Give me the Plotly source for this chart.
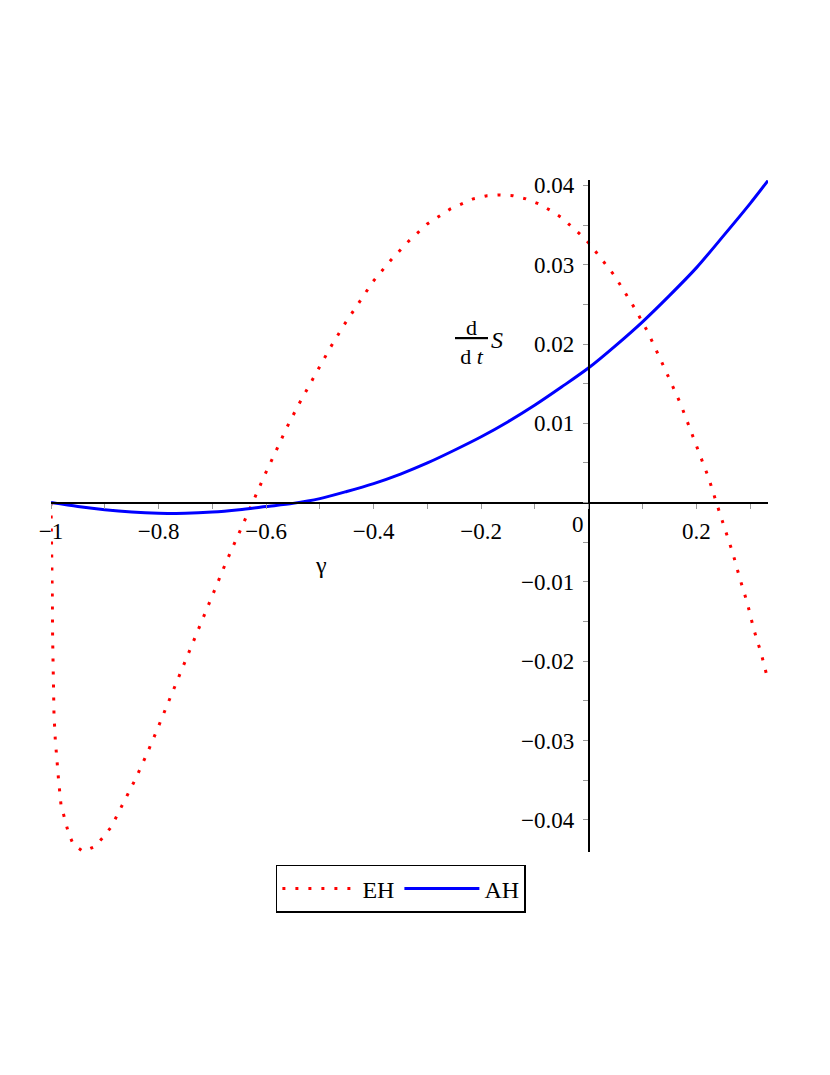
import plotly.graph_objects as go

# ---- data ----
eh_x = [-1.0, -0.9981, -0.9976, -0.997, -0.9957, -0.9944, -0.992, -0.9888, -0.9859,
        -0.9814, -0.9747, -0.9678, -0.9586, -0.94, -0.9195, -0.903, -0.888, -0.866,
        -0.844, -0.823, -0.813, -0.803, -0.785, -0.757, -0.729, -0.701, -0.674,
        -0.625, -0.604, -0.583, -0.562, -0.540, -0.505, -0.481, -0.455, -0.429,
        -0.401, -0.369, -0.336, -0.301, -0.258, -0.215, -0.189, -0.165, -0.141,
        -0.117, -0.094, -0.0725, -0.052, -0.0335, -0.0155, 0.0019, 0.0173, 0.033,
        0.047, 0.061, 0.0855, 0.110, 0.131, 0.1506, 0.171, 0.188, 0.2063, 0.223,
        0.2373, 0.2528, 0.268, 0.2807, 0.295, 0.307, 0.321, 0.3333]
eh_y = [0.0, -0.0068, -0.0119, -0.0169, -0.0220, -0.0268, -0.0299, -0.0329, -0.0350,
        -0.0381, -0.0400, -0.0416, -0.0431, -0.0440, -0.0434, -0.0422, -0.0409, -0.0379,
        -0.0350, -0.0319, -0.0304, -0.0287, -0.0257, -0.0211, -0.0165, -0.0121, -0.00745,
        0.0, 0.00327, 0.0063, 0.0094, 0.0123, 0.01664, 0.0195, 0.0224, 0.0251,
        0.0279, 0.0305, 0.0329, 0.0351, 0.0370, 0.0383, 0.0387, 0.0388, 0.0387,
        0.0383, 0.0377, 0.0369, 0.0360, 0.0349, 0.0338, 0.0326, 0.0313, 0.0300,
        0.0287, 0.0272, 0.0245, 0.0215, 0.0185, 0.0155, 0.0124, 0.0094, 0.0062, 0.0031,
        0.0, -0.0032, -0.0064, -0.0095, -0.0127, -0.0160, -0.0191, -0.0224]

ah_x = [-1.0, -0.95, -0.9, -0.85, -0.8, -0.75, -0.7, -0.65, -0.6, -0.55, -0.5,
        -0.45, -0.4, -0.35, -0.3, -0.25, -0.2, -0.15, -0.1, -0.05, 0.0, 0.05, 0.1,
        0.15, 0.2, 0.25, 0.3, 0.3333]
ah_y = [0.0, -0.0005, -0.0009, -0.00118, -0.00133, -0.00135, -0.0012, -0.0009,
        -0.0005, -0.0001, 0.0005, 0.0014, 0.0024, 0.0036, 0.0050, 0.0066, 0.0083,
        0.0102, 0.0123, 0.0146, 0.0170, 0.0198, 0.0228, 0.0261, 0.0296, 0.0336,
        0.0377, 0.0406]

series_names = ["EH", "AH"]
x_tickvals = [-1, -0.8, -0.6, -0.4, -0.2, 0.2]
y_tickvals = [-0.04, -0.03, -0.02, -0.01, 0.01, 0.02, 0.03, 0.04]

x_range = [-1.0, 1.0 / 3.0]
y_range = [-0.04406, 0.04068]

FONT = "Liberation Serif"

fig = go.Figure()
fig.add_trace(go.Scatter(x=eh_x, y=eh_y, mode="lines", name=series_names[0],
                         line=dict(color="rgb(255,0,0)", width=3, dash="3px,10px")))
fig.add_trace(go.Scatter(x=ah_x, y=ah_y, mode="lines", name=series_names[1],
                         line=dict(color="rgb(0,0,255)", width=3, shape="spline",
                                   smoothing=0.8)))

# positions of the crossing axes (origin) in paper fractions
pos_x_axis = (0 - y_range[0]) / (y_range[1] - y_range[0])
pos_y_axis = (0 - x_range[0]) / (x_range[1] - x_range[0])

# page body has an 8px margin, so the figure is sized to fit inside it
fig.update_layout(
    width=814, height=1059,
    margin=dict(l=43, r=54, t=172, b=215, autoexpand=False),
    plot_bgcolor="white", paper_bgcolor="white",
    font=dict(family=FONT, size=23, color="black"),
    showlegend=True,
    legend=dict(orientation="h", x=0.488, xanchor="center", y=-0.0193, yanchor="top",
                bordercolor="black", borderwidth=1.5, itemwidth=75,
                font=dict(size=24, family=FONT)),
    xaxis=dict(range=x_range, showgrid=False, zeroline=False, anchor="free",
               position=pos_x_axis, showline=True, linecolor="black", linewidth=2,
               automargin=False,
               ticks="outside", ticklen=5, tickcolor="#999", tickwidth=1,
               ticklabelstandoff=3,
               tickvals=x_tickvals, tickfont=dict(size=23, family=FONT),
               minor=dict(dtick=0.1, tick0=0, ticks="outside", ticklen=5,
                          tickcolor="#999")),
    yaxis=dict(range=y_range, showgrid=False, zeroline=False, anchor="free",
               position=pos_y_axis, showline=True, linecolor="black", linewidth=2,
               automargin=False,
               ticks="outside", ticklen=5, tickcolor="#999", tickwidth=1,
               ticklabelstandoff=4,
               tickvals=y_tickvals, tickfont=dict(size=23, family=FONT),
               minor=dict(dtick=0.005, tick0=0, ticks="outside", ticklen=5,
                          tickcolor="#999")),
)

fig.add_annotation(x=0, y=0, xref="x", yref="y", text="0", showarrow=False,
                   xanchor="right", yanchor="top", xshift=-3, yshift=-7,
                   font=dict(size=23, family=FONT))
fig.add_annotation(x=-0.498, y=-0.0079, xref="x", yref="y", text="γ", showarrow=False,
                   xanchor="center", yanchor="middle", font=dict(size=24, family=FONT))
fig.add_annotation(x=-0.2175, y=0.0203, xref="x", yref="y",
                   text="<span style='text-decoration:underline'>&nbsp;&nbsp;d&nbsp;&nbsp;</span><br>d <i>t</i>",
                   showarrow=False, xanchor="center", yanchor="middle",
                   font=dict(size=22, family=FONT))
fig.add_annotation(x=-0.170, y=0.0205, xref="x", yref="y", text="<i>S</i>",
                   showarrow=False, xanchor="center", yanchor="middle",
                   font=dict(size=24, family=FONT))

fig.write_html("out.html")
